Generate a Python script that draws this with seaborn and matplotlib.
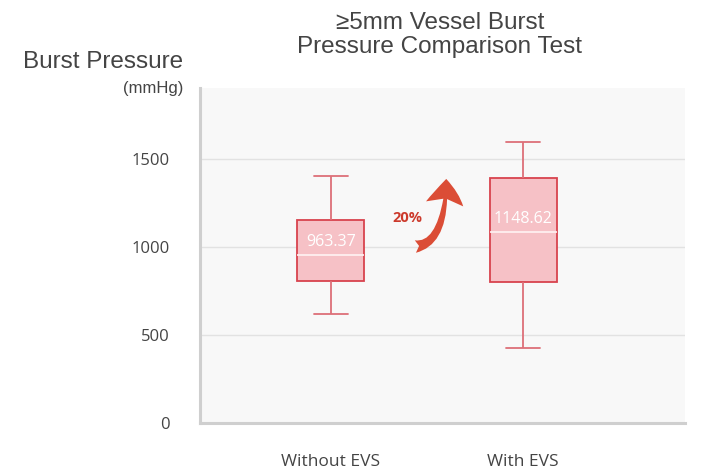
import matplotlib.pyplot as plt
import pandas as pd
import seaborn as sns

groups = ["Without EVS", "With EVS"]
# min, Q1, median, Q3, max
without_evs = [619, 807, 955, 1153, 1403]
with_evs = [426, 801, 1085, 1392, 1591]
mean_labels = ["963.37", "1148.62"]
increase_label = "20%"

df = pd.DataFrame({
    "group": [groups[0]] * len(without_evs) + [groups[1]] * len(with_evs),
    "pressure": without_evs + with_evs,
})

sns.set_theme(style="white")
plt.rcParams["font.family"] = ["Open Sans", "DejaVu Sans"]

fig = plt.figure(figsize=(7.06, 4.73), dpi=100)
ax = fig.add_axes([0.2833, 0.1057, 0.6867, 0.7083])
ax.set_facecolor("#f8f8f8")

edge = "#d8434e"
sns.boxplot(
    data=df, x="group", y="pressure", order=groups, whis=float("inf"),
    width=0.35, color="#f6c1c6", linewidth=1.3, ax=ax,
    boxprops=dict(facecolor="#f6c1c6", edgecolor=edge),
    whiskerprops=dict(color="#dd6f78"),
    capprops=dict(color="#dd6f78"),
    medianprops=dict(color="#fff3f3", linewidth=1.2),
)

for i, lab in enumerate(mean_labels):
    med = df[df.group == groups[i]].pressure.median()
    ax.text(i, med + 25, lab, ha="center", va="bottom", color="white", fontsize=11.5)

ax.annotate("", xy=(0.60, 1400), xytext=(0.425, 1000),
            arrowprops=dict(arrowstyle="fancy,head_width=1.35,head_length=0.9,tail_width=0.45",
                            connectionstyle="angle3,angleA=0,angleB=90", mutation_scale=20,
                            color="#db4d36", lw=0))
ax.text(0.40, 1165, increase_label, ha="center", va="center", color="#cc3a2c",
        fontsize=10.5, fontweight="bold")

ax.set_ylim(0, 1900)
ax.set_xlim(-0.68, 1.84)
ax.set_yticks([0, 500, 1000, 1500])
ax.yaxis.grid(True, color="#e2e2e2", linewidth=1)
ax.set_axisbelow(True)
ax.tick_params(axis="y", labelsize=12, labelcolor="#444444", length=0, pad=22)
ax.tick_params(axis="x", labelsize=12.5, labelcolor="#444444", length=0, pad=22)
ax.set_xlabel("")
ax.set_ylabel("")
for s in ["top", "right"]:
    ax.spines[s].set_visible(False)
for s in ["left", "bottom"]:
    ax.spines[s].set_color("#cfcfcf")
    ax.spines[s].set_linewidth(2.2)

fig.text(0.623, 0.975, "≥5mm Vessel Burst\nPressure Comparison Test", ha="center", va="top",
         fontsize=17.5, color="#444444", family="Liberation Sans", linespacing=1.1)
fig.text(0.26, 0.868, "Burst Pressure", ha="right", va="center",
         fontsize=17.5, color="#444444", family="Liberation Sans")
fig.text(0.26, 0.813, "(mmHg)", ha="right", va="center",
         fontsize=12, color="#444444", family="Liberation Sans")

fig.savefig("out.png", dpi=100)
